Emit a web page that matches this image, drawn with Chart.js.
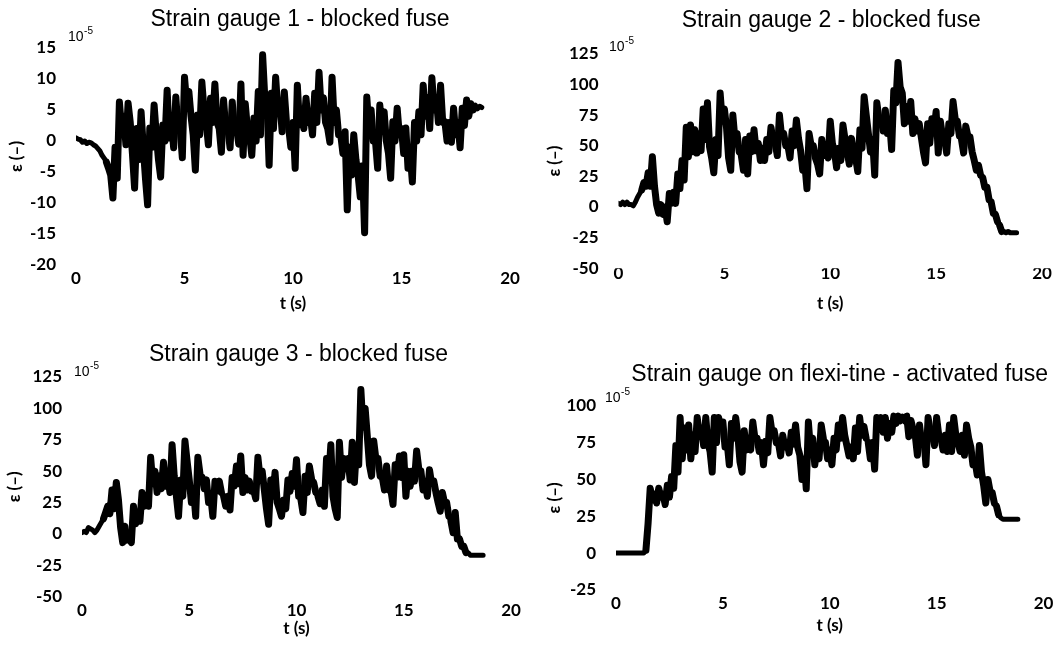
<!DOCTYPE html>
<html>
<head>
<meta charset="utf-8">
<script src="https://cdn.jsdelivr.net/npm/chart.js@4.4.1/dist/chart.umd.min.js"></script>
<style>
  html, body { margin: 0; padding: 0; background: #fff; }
  #wrap { position: relative; width: 1060px; height: 646px; overflow: hidden; }
  .panel { position: absolute; width: 530px; height: 323px; }
</style>
</head>
<body>
<div id="wrap">
  <div class="panel" style="left:0;top:0"><canvas id="c1" width="530" height="323"></canvas></div>
  <div class="panel" style="left:530px;top:0"><canvas id="c2" width="530" height="323"></canvas></div>
  <div class="panel" style="left:0;top:323px"><canvas id="c3" width="530" height="323"></canvas></div>
  <div class="panel" style="left:530px;top:323px"><canvas id="c4" width="530" height="323"></canvas></div>
</div>
<script>
// titles and ticks
const titles = [
  "Strain gauge 1 - blocked fuse",
  "Strain gauge 2 - blocked fuse",
  "Strain gauge 3 - blocked fuse",
  "Strain gauge on flexi-tine - activated fuse"
];
const xTicks = [0, 5, 10, 15, 20];
const yTicks1 = [-20, -15, -10, -5, 0, 5, 10, 15];
const yTicks2 = [-50, -25, 0, 25, 50, 75, 100, 125];
const yTicks3 = [-50, -25, 0, 25, 50, 75, 100, 125];
const yTicks4 = [-25, 0, 25, 50, 75, 100];

// strain (x 10^-5), one reading every 0.1 s from t = 0
// (noisy parts alternate between the upper and lower edge of the trace)
const gauge1 = [
  0.5, 0.3, 0.2, -0.2, 0, -0.4, -0.2, -0.3, -0.6, -0.8,
  -1.2, -1.6, -2.3, -2.8, -3.4, -4.4, -5.5, -9.2, -1, -6,
  6.3, 2, 4, -0.6, 6.1, 3, -2, -7.6, 2, -3,
  4.7, -1, -6, -10.3, 2.1, -1, 5.8, 1, -3, -5.8,
  2.6, 0, 8.2, 0.5, 3, -1.1, 7.1, 2, 2, -2.7,
  10.3, 6, 8, 4, 1, -4.7, 4.2, 1, 9.5, 5,
  3, -0.6, 6.9, 3, 9.2, 3, 2, -1.8, 6.6, 2,
  2, -1.1, 6.3, 2, 2, -0.5, 9.2, -2.3, 6, 2,
  1, -2.3, 3.7, 0, 8, 1, 13.9, 7, 6.3, -3.9,
  7.7, 2, 10.3, 5, 6, 1.5, 7.9, 3, 2.1, -1,
  3, -4.4, 9, 2.6, 5, 2, 6.9, 3, 4, 1,
  7.7, 3, 11.1, 5, 7, 3, 2, -0.2, 10.3, 3,
  5, 1, 1, -2, 1.5, -11.1, -1, -5.5, 1, -3,
  -5.5, -9, -4, -14.8, 7.1, 2, 5, 0, 0, -4.4,
  5.8, 2, 4.7, 0, -2, -6, 3.1, 0, 5.3, 1,
  2, -2, 2.1, -4.4, -2, -6.6, 3, 0, 4.7, 1,
  9, 4, 7, 2, 10.2, 5, 7, 3, 9, 3,
  3.1, 0, 3, -0.2, 5.3, 1, 3, -1.1, 5.3, 2.5,
  6.6, 4, 6, 5, 5.8, 5.2, 5.6, 5.4
];
const gauge2 = [
  3, 2, 4, 2, 4, 2, 2, 1, 4, 8,
  11, 14, 20, 17, 28, 17, 41, 17, 2, -5,
  2, -6, 0, -12, 11, 3, 12, 3, 27, 15,
  38, 22, 65, 41, 67, 45, 63, 44, 60, 46,
  80, 55, 85, 49, 40, 28, 55, 42, 93, 70,
  80, 65, 40, 30, 75, 55, 60, 45, 42, 30,
  55, 27, 58, 45, 63, 46, 52, 38, 48, 38,
  55, 45, 65, 55, 52, 42, 75, 58, 60, 50,
  50, 40, 62, 50, 71, 56, 46, 30, 35, 15,
  60, 50, 50, 40, 35, 27, 55, 42, 48, 40,
  70, 52, 45, 32, 48, 38, 67, 55, 45, 35,
  56, 45, 40, 29, 63, 48, 90, 75, 60, 45,
  55, 26, 85, 72, 72, 62, 79, 60, 70, 47,
  95, 85, 118, 98, 93, 68, 82, 70, 86, 60,
  72, 62, 68, 57, 45, 36, 68, 52, 72, 62,
  78, 44, 70, 58, 55, 44, 68, 60, 86, 72,
  70, 58, 55, 44, 66, 58, 57, 45, 38, 30,
  34, 26, 24, 16, 16, 6, 4, -5, -6, -12,
  -15, -20, -20, -21, -20, -21, -21, -21, -21
];
const gauge3 = [
  1, 2, 1, 5, 4, 3, 1, 3, 6, 9,
  12, 17, 22, 16, 35, 20, 41, 27, 5, -7,
  6, -5, -2, -7, 22, 8, 17, 10, 33, 22,
  30, 22, 61, 40, 50, 33, 46, 36, 57, 38,
  45, 33, 71, 46, 30, 14, 43, 30, 74, 58,
  43, 25, 35, 14, 61, 48, 45, 36, 43, 25,
  30, 14, 42, 34, 42, 33, 30, 22, 30, 19,
  45, 38, 54, 40, 62, 33, 45, 35, 42, 34,
  35, 28, 61, 45, 50, 35, 20, 7.6, 43, 30,
  49, 25, 20, 14, 27, 20, 43, 34, 48, 38,
  59, 30, 28, 17, 46, 33, 54, 44, 41, 33,
  30, 24, 35, 22, 60, 43, 71, 30, 20, 13,
  73, 45, 60, 52, 60, 43, 73, 41, 70, 55,
  115, 85, 100, 78, 55, 46, 74, 60, 60, 46,
  45, 35, 54, 35, 35, 23.5, 55, 45, 62, 45,
  63, 30, 50, 38, 50, 42, 66, 52, 50, 35,
  40, 30, 51, 40, 42, 33, 25, 18, 33, 25,
  25, 14, 10, 1, 17, -4, -4, -10, -10, -15,
  -15, -17, -17, -17, -17, -17, -17, -17
];
const gauge4 = [
  0, 0, 0, 0, 0, 0, 0, 0, 0, 0,
  0, 0, 0, 0, 2, 20, 44, 36, 40, 34,
  44, 38, 40, 33, 46, 38, 52, 44, 73, 55,
  92, 64, 85, 70, 87, 64, 80, 69, 92, 80,
  85, 73, 92, 75, 69, 55, 92, 75, 92, 85,
  89, 72, 75, 60, 88, 78, 92, 80, 62, 55,
  83, 70, 78, 70, 89, 78, 78, 69, 75, 60,
  76, 68, 92, 82, 83, 75, 75, 66, 80, 72,
  75, 68, 82, 74, 87, 72, 66.5, 50, 64, 43.6,
  89, 70, 78, 60, 71, 64, 87, 78, 75, 64,
  70, 60, 78, 70, 87, 78, 92, 80, 73, 66,
  72, 64, 85, 69, 92, 80, 86, 78, 75, 64,
  75, 57, 92, 84, 92, 82, 92, 78, 88, 82,
  93, 88, 93, 89, 93, 89, 93, 79, 90, 84,
  80, 66.5, 87, 75, 78, 60, 92, 83, 80, 73,
  92, 80, 78, 70, 80, 69, 87, 69, 92, 80,
  75, 69, 80, 66.5, 87, 78, 72, 60, 62, 53,
  73, 55, 46, 34, 50, 42, 41, 34, 32, 26,
  24, 23, 23, 23, 23, 23, 23, 23, 23
];

const sampleTimes = n => Array.from({ length: n }, (_, i) => i / 10);

const tickFont = { family: "Lato, 'Open Sans', sans-serif", size: 17, weight: "bold" };
const titleFont = { family: "'Liberation Sans', Arial, sans-serif", size: 23, weight: "normal" };

// draws the "10^-5" multiplier next to the y axis
const exponentLabel = {
  id: "exponentLabel",
  afterDraw(chart, args, opts) {
    const ctx = chart.ctx;
    ctx.save();
    ctx.fillStyle = "#000";
    ctx.textAlign = "left";
    ctx.textBaseline = "middle";
    ctx.font = "14px 'Liberation Sans', Arial, sans-serif";
    ctx.fillText("10", opts.x, opts.y);
    const w = ctx.measureText("10").width;
    ctx.font = "10px 'Liberation Sans', Arial, sans-serif";
    ctx.fillText("-5", opts.x + w + 0.5, opts.y - 6);
    ctx.restore();
  }
};

// titles in the original sit a little right of the plot centre
const titleNudge = {
  id: "titleNudge",
  afterLayout(chart, args, opts) {
    const t = chart.titleBlock;
    if (t && opts.dx) {
      t.left += opts.dx;
      t.right += opts.dx;
    }
  }
};

// steep (noisy) stretches of the trace print heavier than the calm ones
const traceWidth = ctx => (Math.abs(ctx.p1.y - ctx.p0.y) > 6 ? 7 : 5);

const panels = [
  { id: "c1", title: titles[0], values: gauge1, yTicks: yTicks1, left: 76, padRight: 20, titleTop: 6.2, titleBottom: 14.2, titleDx: 7, xHeight: 49.2, padBottom: 8.8, xTickPad: 3.3, yTitlePad: 6.8, expX: 68, expY: 37 },
  { id: "c2", title: titles[1], values: gauge2, yTicks: yTicks2, left: 88.5, padRight: 18, titleTop: 7, titleBottom: 19.2, titleDx: 1, xHeight: 45.9, padBottom: 8.8, xTickPad: -4.6, yTitlePad: 14.8, expX: 79, expY: 47.5 },
  { id: "c3", title: titles[2], values: gauge3, yTicks: yTicks3, left: 82, padRight: 19, titleTop: 18.2, titleBottom: 8.2, titleDx: 2, xHeight: 42.6, padBottom: 6.8, xTickPad: 3.3, yTitlePad: 4.8, expX: 74, expY: 49 },
  { id: "c4", title: titles[3], values: gauge4, yTicks: yTicks4, left: 86, padRight: 16.5, titleTop: 38.2, titleBottom: 17, titleDx: 10, xHeight: 45.7, padBottom: 10.4, xTickPad: 3.3, yTitlePad: 14.8, expX: 75, expY: 75 }
];

panels.forEach(p => {
  new Chart(document.getElementById(p.id), {
    type: "line",
    data: {
      labels: sampleTimes(p.values.length),
      datasets: [
        {
          data: p.values,
          borderColor: "#000",
          borderWidth: 5,
          borderJoinStyle: "round",
          borderCapStyle: "round",
          segment: { borderWidth: traceWidth },
          pointRadius: 0,
          tension: 0,
          fill: false,
        },
      ],
    },
    options: {
      responsive: false,
      animation: false,
      events: [],
      layout: { padding: { left: 0, top: 0, right: p.padRight, bottom: p.padBottom } },
      plugins: {
        legend: { display: false },
        tooltip: { enabled: false },
        title: {
          display: true,
          text: p.title,
          fullSize: false,
          color: "#000",
          font: titleFont,
          padding: { top: p.titleTop, bottom: p.titleBottom },
        },
        titleNudge: { dx: p.titleDx },
        exponentLabel: { x: p.expX, y: p.expY },
      },
      scales: {
        x: {
          type: "linear",
          min: xTicks[0],
          max: xTicks[xTicks.length - 1],
          afterBuildTicks: s => { s.ticks = xTicks.map(v => ({ value: v })); },
          afterFit: s => { s.height = p.xHeight; },
          grid: { display: false, drawTicks: false, tickLength: 0 },
          border: { display: false },
          ticks: { color: "#000", font: tickFont, padding: p.xTickPad, maxRotation: 0, autoSkip: false },
          title: { display: true, text: "t (s)", color: "#000", font: tickFont, padding: { top: 0, bottom: 0 } },
        },
        y: {
          type: "linear",
          min: p.yTicks[0],
          max: p.yTicks[p.yTicks.length - 1],
          afterBuildTicks: s => { s.ticks = p.yTicks.map(v => ({ value: v })); },
          afterFit: s => { s.width = p.left; },
          grid: { display: false, drawTicks: false, tickLength: 0 },
          border: { display: false },
          ticks: { color: "#000", font: tickFont, padding: 20, autoSkip: false },
          title: { display: true, text: "ε (–)", color: "#000", font: tickFont, padding: { top: p.yTitlePad, bottom: 0 } },
        },
      },
    },
    plugins: [titleNudge, exponentLabel],
  });
});
</script>
</body>
</html>
